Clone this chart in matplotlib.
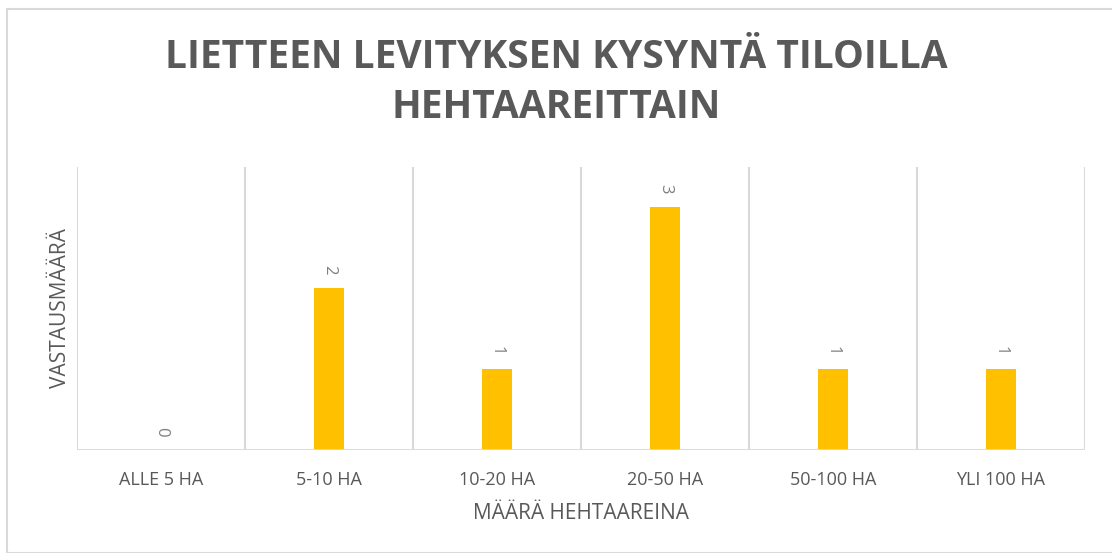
import matplotlib.pyplot as plt
from matplotlib.patches import Rectangle

categories = ['ALLE 5 HA', '5-10 HA', '10-20 HA', '20-50 HA', '50-100 HA', 'YLI 100 HA']
values = [0, 2, 1, 3, 1, 1]

text_color = '#595959'
grid_color = '#D9D9D9'
bar_color = '#FFC000'

plt.rcParams['font.family'] = ['Open Sans', 'DejaVu Sans']

fig = plt.figure(figsize=(11.12, 5.53), dpi=100)
fig.patches.append(Rectangle((7 / 1112, 0), 1.1, 1 - 9 / 553, transform=fig.transFigure,
                             fill=False, edgecolor=grid_color, linewidth=1.5))

ax = fig.add_axes([77 / 1112, 1 - 450 / 553, 1008 / 1112, 283 / 553])
x = range(len(categories))
bars = ax.bar(x, values, width=0.18, color=bar_color, zorder=3)

ax.set_xlim(-0.5, len(categories) - 0.5)
ax.set_ylim(0, 3.5)
for b in [i - 0.5 for i in range(len(categories) + 1)]:
    ax.axvline(b, color=grid_color, linewidth=1.5, zorder=1)
for s in ax.spines.values():
    s.set_visible(False)
ax.axhline(0, color=grid_color, linewidth=2, zorder=4)
ax.set_yticks([])
ax.set_xticks(list(x))
ax.set_xticklabels(categories, fontsize=13, color=text_color)
ax.tick_params(axis='x', length=0, pad=15)

for i, v in enumerate(values):
    ax.text(i, v + 0.17, str(v), rotation=-90, ha='center', va='bottom',
            fontsize=12, color='#7F7F7F')

ax.set_xlabel('MÄÄRÄ HEHTAAREINA', fontsize=15, color=text_color, labelpad=10)
ax.set_ylabel('VASTAUSMÄÄRÄ', fontsize=15, color=text_color, labelpad=4)

fig.text(0.5, 1 - 58 / 553, 'LIETTEEN LEVITYKSEN KYSYNTÄ TILOILLA', ha='center', va='center',
         fontsize=28, fontweight='bold', color=text_color)
fig.text(0.5, 1 - 108 / 553, 'HEHTAAREITTAIN', ha='center', va='center',
         fontsize=28, fontweight='bold', color=text_color)

fig.savefig('out.png', dpi=100, facecolor='white')
